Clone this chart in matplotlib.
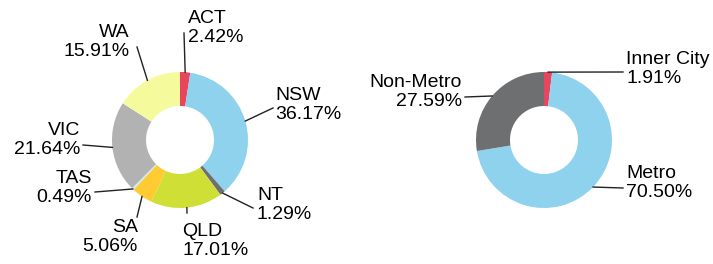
import matplotlib.pyplot as plt

plt.rcParams['font.family'] = ['Liberation Sans', 'DejaVu Sans']

# left donut: by state
states = ['ACT', 'NSW', 'NT', 'QLD', 'SA', 'TAS', 'VIC', 'WA']
state_pct = [2.42, 36.17, 1.29, 17.01, 5.06, 0.49, 21.64, 15.91]
state_colors = ['#E8455F', '#8FD2EE', '#6E6F71', '#CFDF35', '#FFCB32',
                '#CFE9F1', '#B2B2B2', '#F5FB9C']

# right donut: by region type
regions = ['Inner City', 'Metro', 'Non-Metro']
region_pct = [1.91, 70.50, 27.59]
region_colors = ['#E8455F', '#8FD2EE', '#6E6F71']

# label layout (pixel coords): text anchor, alignment, leader end
state_labels = {
    'ACT': ((188, 28), 'left', (184, 33)),
    'NSW': ((275, 105), 'left', (273, 108)),
    'NT': ((257, 205), 'left', (253, 208)),
    'QLD': ((182, 241), 'left', (187, 213)),
    'SA': ((138, 237), 'right', (137, 217)),
    'TAS': ((92, 188), 'right', (95, 192)),
    'VIC': ((80, 140), 'right', (83, 145)),
    'WA': ((130, 42), 'right', (137, 47)),
}
region_labels = {
    'Inner City': ((626, 69), 'left', (623, 72)),
    'Metro': ((626, 183), 'left', (623, 188)),
    'Non-Metro': ((462, 92), 'right', (465, 97)),
}

import numpy as np

fig = plt.figure(figsize=(7.13, 2.64), dpi=100)
ax = fig.add_axes([0, 0, 1, 1])


def donut(names, vals, colors, center, labels):
    R = 68
    wedges, _ = ax.pie(vals, colors=colors, center=center, radius=R,
                       startangle=-90, counterclock=True,
                       wedgeprops=dict(width=R / 2, linewidth=0))
    for w, n, v in zip(wedges, names, vals):
        mid = np.deg2rad((w.theta1 + w.theta2) / 2)
        x0 = center[0] + R * np.cos(mid)
        y0 = center[1] + R * np.sin(mid)
        (tx, ty), ha, (ex, ey) = labels[n]
        ax.plot([x0, ex], [y0, ey], color='#222222', lw=1)
        ax.text(tx, ty, f'{n}\n{v:.2f}%', ha=ha, va='center', ma=ha,
                fontsize=14, color='black', linespacing=1.15)


donut(states, state_pct, state_colors, (180, 140), state_labels)
donut(regions, region_pct, region_colors, (544, 140), region_labels)

ax.set_xlim(0, 713)
ax.set_ylim(264, 0)
ax.set_aspect('equal')
ax.axis('off')

fig.savefig('out.png', dpi=100)
